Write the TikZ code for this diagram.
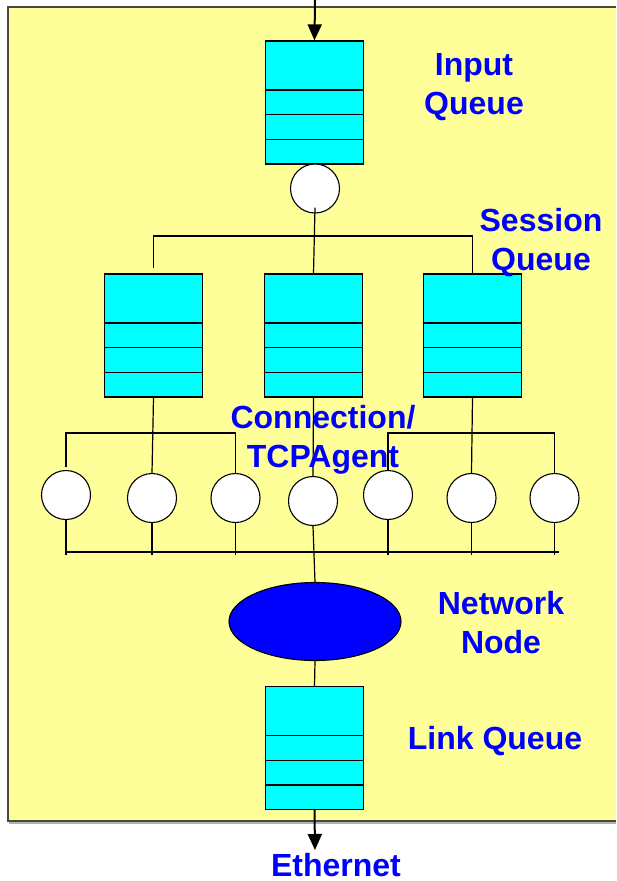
\documentclass[tikz,border=0pt]{standalone}
\usepackage{fontspec}
\setmainfont{Liberation Sans}
\usetikzlibrary{arrows.meta,shapes.geometric}
\definecolor{bgyellow}{HTML}{FFFF99}
\definecolor{qcyan}{HTML}{00FFFF}
\definecolor{lblblue}{HTML}{0000FF}
\definecolor{frame}{HTML}{4A4A3A}
\tikzset{
  queue/.style={draw=black, line width=1.2pt, fill=qcyan, minimum width=98pt,
    minimum height=123pt, inner sep=0pt,
    path picture={
      \foreach \f in {24.6,49.3,74} {
        \draw[line width=1.2pt] ([yshift=\f pt]path picture bounding box.south west)
          -- ([yshift=\f pt]path picture bounding box.south east);
      }}},
  agent/.style={circle, draw=black, line width=1.1pt, fill=white,
    minimum size=49pt, inner sep=0pt},
  netnode/.style={ellipse, draw=black, line width=1.1pt, fill=lblblue,
    minimum width=172pt, minimum height=78pt, inner sep=0pt},
  lbl/.style={text=lblblue, align=center, inner sep=0pt,
    font=\fontsize{32}{39}\selectfont\bfseries},
  wire/.style={draw=black, line width=1.2pt},
  flow/.style={draw=black, line width=2pt, -{Triangle[length=16pt,width=14pt]}}
}
\begin{document}
\begin{tikzpicture}[x=1pt,y=-1pt]
\useasboundingbox (0,0) rectangle (616,881);

% panel
\fill[bgyellow] (8,7) rectangle (616,821);
\draw[black!30, line width=1.5pt] (9,823) -- (616,823);
\draw[frame, line width=1.8pt] (616,7) -- (8,7) -- (8,821) -- (616,821);

% queues
\node[queue] (inq) at (314.5,102.5) {};
\node[queue] (sq1) at (153.5,335.5) {};
\node[queue] (sq2) at (313.5,335.5) {};
\node[queue] (sq3) at (472.5,335.5) {};
\node[queue] (lq)  at (314.5,748) {};

% dispatcher and connection agents
\node[agent] (c0) at (315,188.5) {};
\node[agent] (c1) at (66,495) {};
\node[agent] (c2) at (152,498) {};
\node[agent] (c3) at (235.5,498) {};
\node[agent] (c4) at (313,501) {};
\node[agent] (c5) at (388,495) {};
\node[agent] (c6) at (471.5,498) {};
\node[agent] (c7) at (554.5,498) {};

% network node
\node[netnode] (net) at (315,621.5) {};

% bus points
\coordinate (bus0) at (313,236);
\coordinate (bus1) at (152,433);
\coordinate (bus2) at (472,433);
\coordinate (busL) at (66,552);
\coordinate (busR) at (559,552);
\coordinate (src) at (315,0);
\coordinate (sink) at (315,850);

% wiring
\draw[wire] ([yshift=6pt]c0.south) -- (sq2.north);
\draw[wire] ([yshift=5pt]sq1.north) |- (bus0) -| (sq3.north);
\draw[wire] ([yshift=3pt]c1.north) |- (bus1) -| (c3.north);
\draw[wire] (sq1.south) -- (c2.north);
\draw[wire] (c5.north) |- (bus2) -| (c7.north);
\draw[wire] (sq3.south) -- (c6.north);
\draw[wire] (sq2.south) -- (c4.north);
\draw[wire] (c4.south) -- (net.north);
\draw[wire] (busL) -- (busR);
\foreach \c in {c1,c2,c3,c5,c6,c7} {
  \draw[wire] (\c.south) -- ([yshift=-3pt]\c.south |- busL);
}
\draw[wire] (net.south) -- (lq.north);

% external flow
\draw[flow] (src) -- (inq.north);
\draw[flow] (lq.south) -- (sink);

% labels
\node[lbl] (tin)  at (474,87)  {Input\\Queue};
\node[lbl] (tses) at (541,243) {Session\\Queue};
\node[lbl] (tcon) at (323,440) {Connection/\\TCPAgent};
\node[lbl] (tnet) at (501,622.5) {Network\\Node};
\node[lbl] (tlq)  at (495,741) {Link Queue};
\node[lbl] (teth) at (336,865) {Ethernet};
\end{tikzpicture}
\end{document}
